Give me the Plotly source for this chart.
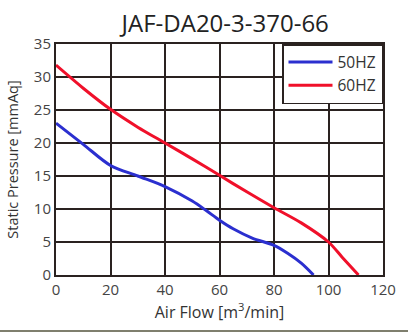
import plotly.graph_objects as go

flow_50 = [0, 10, 20, 30, 40, 50, 55, 60, 65, 72, 80, 85, 90, 94.5]
pres_50 = [23.0, 19.8, 16.6, 15.0, 13.4, 11.2, 9.8, 8.3, 7.0, 5.6, 4.5, 3.3, 1.8, 0]
flow_60 = [0, 10, 20, 30, 40, 50, 60, 70, 80, 90, 100, 105, 111]
pres_60 = [31.8, 28.3, 25.1, 22.4, 20.0, 17.6, 15.1, 12.6, 10.2, 7.9, 5.0, 2.7, 0]

x_ticks = [0, 20, 40, 60, 80, 100, 120]
y_ticks = [0, 5, 10, 15, 20, 25, 30, 35]

FONT = "Open Sans"
dark = "#2a2220"

fig = go.Figure()
fig.add_trace(go.Scatter(x=flow_50, y=pres_50, mode="lines", name="50HZ",
                         line=dict(color="#2b2fcf", width=3, shape="spline", smoothing=0.9)))
fig.add_trace(go.Scatter(x=flow_60, y=pres_60, mode="lines", name="60HZ",
                         line=dict(color="#f0102a", width=3, shape="spline", smoothing=0.8)))

fig.update_layout(
    width=408, height=334,
    margin=dict(l=56, r=16, t=44, b=59),
    paper_bgcolor="white", plot_bgcolor="white",
    font=dict(family=FONT, color="#333333", size=14),
    title=dict(text="JAF-DA20-3-370-66", x=0.552, xanchor="center", y=0.928, yanchor="middle",
               font=dict(family=FONT, size=24, color="#222222")),
    showlegend=True,
    legend=dict(x=1, y=1, xanchor="right", yanchor="top", bgcolor="white",
                bordercolor=dark, borderwidth=1.5, font=dict(size=15.5, color="#333333"),
                itemwidth=44, tracegroupgap=2),
    xaxis=dict(range=[0, 120], tickvals=x_ticks, ticks="", showgrid=True, gridcolor=dark,
               gridwidth=1.5, zeroline=False, showline=True, linecolor=dark, linewidth=2,
               mirror=True, title=dict(text="Air Flow [m<sup>3</sup>/min]", standoff=9,
                                       font=dict(size=16, color="#333333")),
               tickfont=dict(size=15, color="#444444")),
    yaxis=dict(range=[0, 35], tickvals=y_ticks, ticks="", showgrid=True, gridcolor=dark,
               gridwidth=1.5, zeroline=False, showline=True, linecolor=dark, linewidth=2,
               mirror=True, title=dict(text="Static Pressure [mmAq]", standoff=12,
                                       font=dict(size=14.5, color="#333333")),
               tickfont=dict(size=15, color="#444444")),
)
fig.add_shape(type="line", xref="paper", yref="paper", x0=-0.2, x1=1.1, y0=-0.242, y1=-0.242,
              line=dict(color="#7f7f6e", width=2))

fig.write_html("out.html")
